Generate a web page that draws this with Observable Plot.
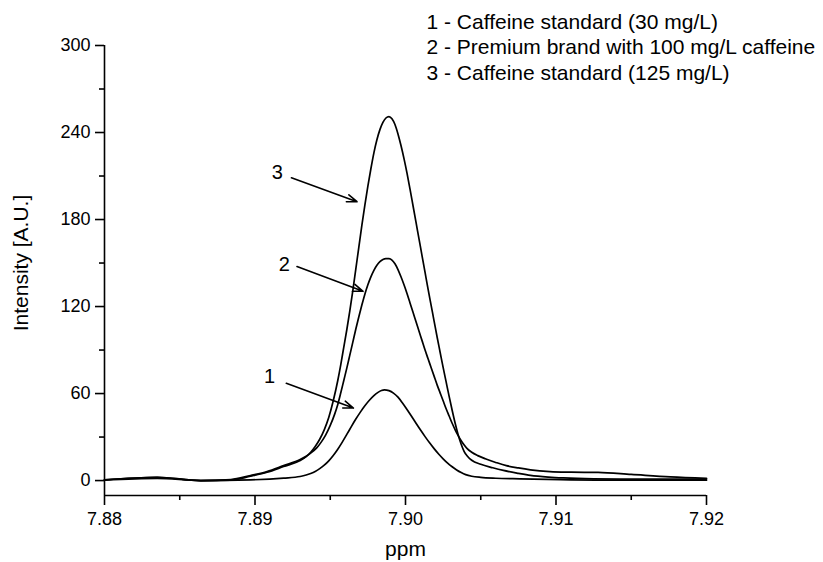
<!DOCTYPE html>
<html><head><meta charset="utf-8">
<script src="https://cdn.jsdelivr.net/npm/d3@7"></script>
<script src="https://cdn.jsdelivr.net/npm/@observablehq/plot@0.6"></script>
<style>body{margin:0;background:#fff;} svg{display:block}</style>
</head><body><div id="chart"></div>
<script>
// Curve 1 - Caffeine standard (30 mg/L)
const ppm1 = [7.8800,7.8835,7.8864,7.8897,7.8919,7.8930,7.8934,7.8937,7.8940,7.8943,7.8946,7.8949,7.8952,7.8955,7.8958,7.8961,7.8964,7.8967,7.8970,7.8973,7.8976,7.8979,7.8982,7.8984,7.8986,7.8989,7.8992,7.8995,7.8998,7.9001,7.9004,7.9007,7.9010,7.9013,7.9016,7.9019,7.9022,7.9025,7.9028,7.9031,7.9034,7.9037,7.9040,7.9044,7.9050,7.9060,7.9076,7.9103,7.9143,7.9200];
const int1 = [0.3,1.5,0.0,0.5,1.7,2.8,3.8,4.9,6.3,8.2,10.6,13.6,17.3,21.6,26.5,31.8,37.2,42.4,47.2,51.6,55.4,58.6,61.0,62.1,62.6,62.0,60.3,57.5,53.5,49.0,44.3,39.5,34.8,30.3,26.0,22.0,18.3,15.0,12.0,9.5,7.3,5.5,4.1,3.0,2.2,1.6,1.2,0.7,0.3,0.3];
// Curve 2 - Premium brand with 100 mg/L caffeine
const ppm2 = [7.8800,7.8835,7.8864,7.8884,7.8897,7.8908,7.8919,7.8930,7.8934,7.8937,7.8941,7.8944,7.8947,7.8950,7.8953,7.8955,7.8957,7.8959,7.8961,7.8963,7.8965,7.8967,7.8969,7.8971,7.8973,7.8975,7.8977,7.8979,7.8981,7.8983,7.8985,7.8987,7.8989,7.8991,7.8993,7.8995,7.8997,7.8999,7.9001,7.9003,7.9005,7.9007,7.9009,7.9011,7.9013,7.9015,7.9017,7.9019,7.9021,7.9023,7.9025,7.9027,7.9029,7.9031,7.9033,7.9035,7.9037,7.9039,7.9041,7.9044,7.9048,7.9053,7.9060,7.9067,7.9075,7.9083,7.9096,7.9110,7.9128,7.9150,7.9176,7.9200];
const int2 = [0.5,2.3,0.0,0.7,3.5,6.2,10.3,14.5,16.8,18.9,22.5,26.5,31.5,38.0,46.0,52.5,60.5,69.0,77.5,86.5,95.5,104.5,113.0,121.0,128.5,135.0,140.5,145.0,148.5,151.0,152.5,153.1,153.0,152.0,149.5,145.5,140.5,135.0,129.0,122.5,116.0,109.5,103.0,96.5,90.0,84.0,78.0,72.0,66.0,60.5,55.0,49.5,44.5,39.5,35.0,31.0,27.5,24.5,22.0,19.5,17.2,15.0,12.5,10.3,8.7,7.4,6.2,5.8,5.6,4.2,2.5,1.5];
// Curve 3 - Caffeine standard (125 mg/L)
const ppm3 = [7.8800,7.8835,7.8864,7.8884,7.8897,7.8908,7.8919,7.8930,7.8934,7.8937,7.8940,7.8943,7.8946,7.8949,7.8952,7.8955,7.8957,7.8959,7.8961,7.8963,7.8965,7.8967,7.8969,7.8971,7.8973,7.8975,7.8977,7.8979,7.8981,7.8983,7.8985,7.8987,7.8989,7.8991,7.8993,7.8995,7.8997,7.8999,7.9001,7.9003,7.9005,7.9007,7.9009,7.9011,7.9013,7.9015,7.9017,7.9019,7.9021,7.9023,7.9025,7.9027,7.9029,7.9031,7.9033,7.9035,7.9037,7.9039,7.9041,7.9044,7.9050,7.9058,7.9065,7.9075,7.9083,7.9095,7.9105,7.9125,7.9150,7.9200];
const int3 = [0.5,2.3,0.0,0.3,3.0,5.7,9.7,13.8,16.5,19.5,23.5,28.5,35.0,43.5,55.0,69.0,80.0,92.0,104.0,117.0,131.0,146.0,161.0,176.0,190.0,203.0,215.0,226.0,235.0,242.0,247.0,250.0,251.0,249.5,245.5,239.0,231.0,222.0,212.0,201.0,189.5,178.0,166.5,155.0,143.5,132.0,121.0,110.0,99.0,88.5,78.0,68.0,58.0,48.5,39.5,31.5,25.0,20.0,17.0,14.0,11.2,8.8,7.0,5.0,3.6,2.4,1.8,1.2,1.0,1.0];

const legendLines = ["1 - Caffeine standard (30 mg/L)", "2 - Premium brand with 100 mg/L caffeine", "3 - Caffeine standard (125 mg/L)"];
const xTitle = "ppm";
const yTitle = "Intensity [A.U.]";
const xTicks = [7.88, 7.89, 7.90, 7.91, 7.92];
const xMinorTicks = [7.885, 7.895, 7.905, 7.915];
const yTicks = [0, 60, 120, 180, 240, 300];
const yMinorTicks = [30, 90, 150, 210, 270];
const xDomain = [7.88, 7.92];
const yDomain = [-10.3, 300];

// curve number labels and arrows (data coordinates)
const labelText = ["3", "2", "1"];
const labelX = [7.89148, 7.89194, 7.89097];
const labelY = [212.4, 148.8, 71.5];
const arrowX1 = [7.89242, 7.89279, 7.89208];
const arrowY1 = [208.8, 147.6, 67.1];
const arrowX2 = [7.89678, 7.89718, 7.89654];
const arrowY2 = [192.3, 130.5, 50.0];

const rows = [];
[[ppm1, int1, "1"], [ppm2, int2, "2"], [ppm3, int3, "3"]].forEach(([xs, ys, s]) => {
  xs.forEach((x, i) => rows.push({ppm: x, intensity: ys[i], series: s}));
});
const labels = labelText.map((t, i) => ({t, x: labelX[i], y: labelY[i]}));
const arrows = labelText.map((t, i) => ({x1: arrowX1[i], y1: arrowY1[i], x2: arrowX2[i], y2: arrowY2[i]}));

const chart = Plot.plot({
  width: 823, height: 562,
  marginLeft: 104, marginRight: 117, marginTop: 45, marginBottom: 67,
  x: {domain: xDomain},
  y: {domain: yDomain},
  style: {fontFamily: "'Liberation Sans', Arial, sans-serif", background: "#fff", color: "#000"},
  marks: [
    Plot.axisX({ticks: xTicks, tickSize: 10, tickPadding: 7, tickFormat: d3.format(".2f"), fontSize: 18, strokeWidth: 1.6, label: null}),
    Plot.axisX({ticks: xMinorTicks, tickSize: 5, tickFormat: () => "", strokeWidth: 1.6, label: null}),
    Plot.axisY({ticks: yTicks, tickSize: 9, tickPadding: 5, fontSize: 18, strokeWidth: 1.6, label: null}),
    Plot.axisY({ticks: yMinorTicks, tickSize: 5, tickFormat: () => "", strokeWidth: 1.6, label: null}),
    Plot.ruleX([xDomain[0]], {strokeWidth: 1.6}),
    Plot.ruleY([yDomain[0]], {strokeWidth: 1.6}),
    Plot.line(rows, {x: "ppm", y: "intensity", z: "series", curve: "monotone-x", stroke: "black", strokeWidth: 1.7}),
    Plot.arrow(arrows, {x1: "x1", y1: "y1", x2: "x2", y2: "y2", stroke: "black", strokeWidth: 1.6, headLength: 10, headAngle: 40}),
    Plot.text(labels, {x: "x", y: "y", text: "t", fontSize: 20}),
    Plot.text([legendLines.join("\n")], {frameAnchor: "top-left", dx: 322, dy: -35, lineHeight: 1.214, fontSize: 21}),
    Plot.text([yTitle], {frameAnchor: "left", textAnchor: "middle", lineAnchor: "middle", dx: -83, dy: -7.5, rotate: -90, fontSize: 21}),
    Plot.text([xTitle], {frameAnchor: "bottom", textAnchor: "middle", lineAnchor: "middle", dy: 54, fontSize: 21})
  ]
});
document.getElementById("chart").appendChild(chart);
</script>
</body></html>
